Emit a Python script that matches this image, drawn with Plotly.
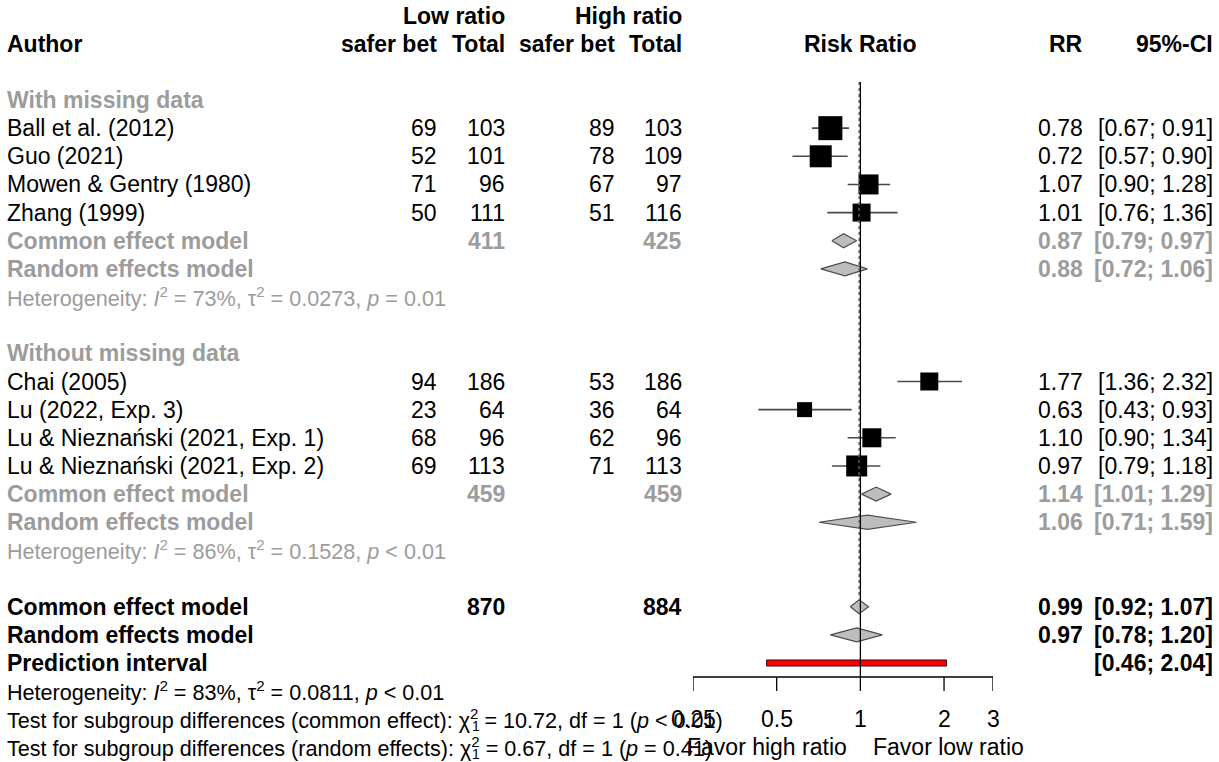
import numpy as np
import plotly.graph_objects as go

W, H = 1219, 762

# ---- study data -------------------------------------------------------------
group_labels = ["With missing data", "Without missing data"]
study_group = [0, 0, 0, 0, 1, 1, 1, 1]
authors = [
    "Ball et al. (2012)", "Guo (2021)", "Mowen & Gentry (1980)", "Zhang (1999)",
    "Chai (2005)", "Lu (2022, Exp. 3)", "Lu & Nieznański (2021, Exp. 1)",
    "Lu & Nieznański (2021, Exp. 2)",
]
low_events = [69, 52, 71, 50, 94, 23, 68, 69]
low_totals = [103, 101, 96, 111, 186, 64, 96, 113]
high_events = [89, 78, 67, 51, 53, 36, 62, 71]
high_totals = [103, 109, 97, 116, 186, 64, 96, 113]
rr = [0.78, 0.72, 1.07, 1.01, 1.77, 0.63, 1.10, 0.97]
ci_lo = [0.67, 0.57, 0.90, 0.76, 1.36, 0.43, 0.90, 0.79]
ci_hi = [0.91, 0.90, 1.28, 1.36, 2.32, 0.93, 1.34, 1.18]
# square side (px), proportional to study weight
box_size = [24, 22, 20, 18, 18, 15, 19, 21]

# ---- pooled estimates per subgroup --------------------------------------------
grp_low_total = [411, 459]
grp_high_total = [425, 459]
grp_common = [(0.87, 0.79, 0.97), (1.14, 1.01, 1.29)]
grp_random = [(0.88, 0.72, 1.06), (1.06, 0.71, 1.59)]
grp_het = [("73%", "0.0273", "= 0.01"), ("86%", "0.1528", "< 0.01")]

# ---- overall ----------------------------------------------------------------
all_low_total, all_high_total = 870, 884
all_common = (0.99, 0.92, 1.07)
all_random = (0.97, 0.78, 1.20)
pred_interval = (0.46, 2.04)
all_het = ("83%", "0.0811", "< 0.01")
subgroup_tests = [("common effect", "10.72", "< 0.01"), ("random effects", "0.67", "= 0.41")]

tick_vals = [0.25, 0.5, 1, 2, 3]
tick_text = ["0.25", "0.5", "1", "2", "3"]
label_left, label_right = "Favor high ratio", "Favor low ratio"

# ---- layout constants ---------------------------------------------------------
ROW0_PX, ROW_PX = 100.0, 28.15
FONT = "Liberation Sans, Arial, Helvetica, sans-serif"
FS, FS_HET = 23, 21.6
GREY = "#9c9c9c"
X_AUTHOR, X_LOW_EV, X_LOW_TOT, X_HIGH_EV, X_HIGH_TOT = 7, 437, 505, 615, 682
X_RR, X_CI = 1083, 1213
X_PLOT0, X_PLOT1 = 693, 993
X_CHI_SUB = 472   # left edge of the chi-square df subscript


def px_row(px):
    return (px - ROW0_PX) / ROW_PX


fig = go.Figure()
ann = []


def text(x_px, row, s, anchor="left", color="black", size=FS, bold=False):
    if bold:
        s = f"<b>{s}</b>"
    ann.append(dict(x=x_px / W, xref="paper", y=row, yref="y", text=s,
                    xanchor=anchor, yanchor="middle", showarrow=False,
                    font=dict(family=FONT, size=size, color=color),
                    borderpad=0, borderwidth=0))


def fmt_ci(lo, hi):
    return f"[{lo:.2f}; {hi:.2f}]"


def het_text(i2, tau2, p):
    return (f"Heterogeneity: <i>I</i><sup>2</sup> = {i2}, τ<sup>2</sup> = {tau2}, "
            f"<i>p</i> {p}")


def diamond(est, lo, hi, row, half=0.25):
    fig.add_trace(go.Scatter(
        x=[lo, est, hi, est, lo], y=[row, row - half, row, row + half, row],
        mode="lines", fill="toself", fillcolor="#bdbdbd",
        line=dict(color="#4d4d4d", width=1.2), hoverinfo="skip", showlegend=False))


# ---- header -----------------------------------------------------------------
text(X_LOW_TOT, -3, "Low ratio", "right", bold=True)
text(X_HIGH_TOT, -3, "High ratio", "right", bold=True)
text(X_AUTHOR, -2, "Author", bold=True)
text(X_LOW_EV, -2, "safer bet", "right", bold=True)
text(X_LOW_TOT, -2, "Total", "right", bold=True)
text(X_HIGH_EV, -2, "safer bet", "right", bold=True)
text(X_HIGH_TOT, -2, "Total", "right", bold=True)
text(860, -2, "Risk Ratio", "center", bold=True)
text(X_RR, -2, "RR", "right", bold=True)
text(X_CI, -2, "95%-CI", "right", bold=True)

# ---- rows --------------------------------------------------------------------
study_rows = []
row = 0
for g, label in enumerate(group_labels):
    text(X_AUTHOR, row, label, color=GREY, bold=True)
    row += 1
    for i in [k for k, sg in enumerate(study_group) if sg == g]:
        study_rows.append(row)
        text(X_AUTHOR, row, authors[i])
        text(X_LOW_EV, row, str(low_events[i]), "right")
        text(X_LOW_TOT, row, str(low_totals[i]), "right")
        text(X_HIGH_EV, row, str(high_events[i]), "right")
        text(X_HIGH_TOT, row, str(high_totals[i]), "right")
        text(X_RR, row, f"{rr[i]:.2f}", "right")
        text(X_CI, row, fmt_ci(ci_lo[i], ci_hi[i]), "right")
        row += 1
    est, lo, hi = grp_common[g]
    text(X_AUTHOR, row, "Common effect model", color=GREY, bold=True)
    text(X_LOW_TOT, row, str(grp_low_total[g]), "right", GREY, bold=True)
    text(X_HIGH_TOT, row, str(grp_high_total[g]), "right", GREY, bold=True)
    text(X_RR, row, f"{est:.2f}", "right", GREY, bold=True)
    text(X_CI, row, fmt_ci(lo, hi), "right", GREY, bold=True)
    diamond(est, lo, hi, row)
    row += 1
    est, lo, hi = grp_random[g]
    text(X_AUTHOR, row, "Random effects model", color=GREY, bold=True)
    text(X_RR, row, f"{est:.2f}", "right", GREY, bold=True)
    text(X_CI, row, fmt_ci(lo, hi), "right", GREY, bold=True)
    diamond(est, lo, hi, row)
    row += 1
    text(X_AUTHOR, row, het_text(*grp_het[g]), color=GREY, size=FS_HET)
    row += 2

# overall
common_row = row
est, lo, hi = all_common
text(X_AUTHOR, row, "Common effect model", bold=True)
text(X_LOW_TOT, row, str(all_low_total), "right", bold=True)
text(X_HIGH_TOT, row, str(all_high_total), "right", bold=True)
text(X_RR, row, f"{est:.2f}", "right", bold=True)
text(X_CI, row, fmt_ci(lo, hi), "right", bold=True)
diamond(est, lo, hi, row)
row += 1
est, lo, hi = all_random
text(X_AUTHOR, row, "Random effects model", bold=True)
text(X_RR, row, f"{est:.2f}", "right", bold=True)
text(X_CI, row, fmt_ci(lo, hi), "right", bold=True)
diamond(est, lo, hi, row)
row += 1
text(X_AUTHOR, row, "Prediction interval", bold=True)
text(X_CI, row, fmt_ci(*pred_interval), "right", bold=True)
ph = 3.0 / ROW_PX
fig.add_trace(go.Scatter(
    x=[pred_interval[0], pred_interval[1], pred_interval[1], pred_interval[0], pred_interval[0]],
    y=[row - ph, row - ph, row + ph, row + ph, row - ph],
    mode="lines", fill="toself", fillcolor="#ff0000",
    line=dict(color="#3a0000", width=1), hoverinfo="skip", showlegend=False))
row += 1
text(X_AUTHOR, row, het_text(*all_het), size=FS_HET)
row += 1
for name, chi, p in subgroup_tests:
    text(X_AUTHOR, row,
         f"Test for subgroup differences ({name}): χ<sup>2</sup> = {chi}, df = 1 (<i>p</i> {p})",
         size=FS_HET)
    # degrees of freedom as a subscript stacked under the superscript
    text(X_CHI_SUB, row + 0.25, "1", size=14)
    row += 1

# ---- study squares and CI lines ----------------------------------------------
ci_x, ci_y = [], []
for r_, lo, hi in zip(study_rows, ci_lo, ci_hi):
    ci_x += [lo, hi, None]
    ci_y += [r_, r_, None]
fig.add_trace(go.Scatter(x=ci_x, y=ci_y, mode="lines",
                         line=dict(color="#4a4a4a", width=1.6),
                         hoverinfo="skip", showlegend=False))
fig.add_trace(go.Scatter(x=rr, y=study_rows, mode="markers",
                         marker=dict(symbol="square", size=box_size, color="black",
                                     opacity=1, line=dict(width=0)),
                         hoverinfo="skip", showlegend=False))

# ---- reference lines ------------------------------------------------------------
axis_row = px_row(677)
top_row = px_row(82)
fig.add_trace(go.Scatter(x=[all_common[0], all_common[0]], y=[top_row, common_row - 0.3],
                         mode="lines", line=dict(color="#6e6e6e", width=1.5, dash="dot"),
                         hoverinfo="skip", showlegend=False))
fig.add_trace(go.Scatter(x=[1, 1], y=[top_row, axis_row], mode="lines",
                         line=dict(color="black", width=1.3),
                         hoverinfo="skip", showlegend=False))

# ---- x axis drawn in data coordinates ----------------------------------------------
tick_len = 14 / ROW_PX
ax_x = [tick_vals[0], tick_vals[-1], None]
ax_y = [axis_row, axis_row, None]
for v in tick_vals:
    ax_x += [v, v, None]
    ax_y += [axis_row, axis_row + tick_len, None]
fig.add_trace(go.Scatter(x=ax_x, y=ax_y, mode="lines",
                         line=dict(color="black", width=1.3),
                         hoverinfo="skip", showlegend=False))
for v, t in zip(tick_vals, tick_text):
    ann.append(dict(x=np.log10(v), xref="x", y=22, yref="y", text=t,
                    xanchor="center", yanchor="middle", showarrow=False,
                    font=dict(family=FONT, size=FS, color="black"),
                    borderpad=0, borderwidth=0))
text(847, 23, label_left, "right")
text(873, 23, label_right, "left")

fig.update_layout(
    width=W, height=H,
    margin=dict(l=0, r=0, t=0, b=0),
    paper_bgcolor="white", plot_bgcolor="rgba(0,0,0,0)",
    showlegend=False,
    annotations=ann,
    xaxis=dict(type="log", domain=[X_PLOT0 / W, X_PLOT1 / W],
               range=[np.log10(tick_vals[0]), np.log10(tick_vals[-1])],
               visible=False, fixedrange=True),
    yaxis=dict(domain=[0, 1], range=[px_row(H), px_row(0)],
               visible=False, fixedrange=True),
)

fig.write_html("out.html")
